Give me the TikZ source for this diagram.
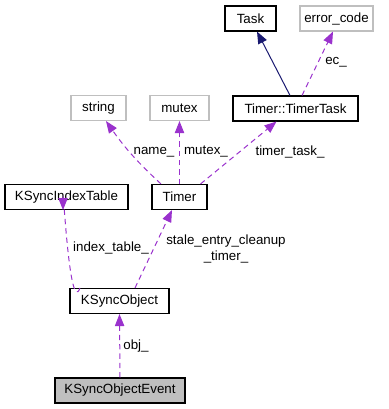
\documentclass[tikz,border=0pt]{standalone}
\usepackage{fontspec}
\setmainfont{Liberation Sans}
\usetikzlibrary{arrows.meta,calc}

\definecolor{edgepurple}{HTML}{9A32CD}
\definecolor{edgenavy}{HTML}{191970}
\definecolor{extgray}{HTML}{BFBFBF}

\begin{document}
\begin{tikzpicture}[x=0.75pt,y=-0.75pt,
    font=\fontsize{10}{11.5}\selectfont,
    classbox/.style={draw=black,line width=0.8pt,inner sep=0pt,
        minimum height=18.75pt,minimum width=#1*0.75pt},
    extbox/.style={classbox=#1,draw=extgray},
    usage/.style={edgepurple,line width=0.75pt,dash pattern=on 4pt off 3pt,
        -{Triangle[length=9pt,width=7pt,sharp]}},
    inherit/.style={edgenavy,line width=0.75pt,
        -{Triangle[length=9pt,width=7pt,sharp]}},
    memname/.style={inner sep=0pt,align=center}]
    \useasboundingbox (0,0) rectangle (388,409);
    % classes
    \node[classbox=51]  (task)   at (250.5,18.5) {Task};
    \node[extbox=73]    (errc)   at (336.5,18.5) {error\_code};
    \node[extbox=55]    (str)    at (98.5,108)   {string};
    \node[extbox=59]    (mtx)    at (179.5,108)  {mutex};
    \node[classbox=125] (ttask)  at (295.5,108.5) {Timer::TimerTask};
    \node[classbox=123] (itable) at (66.5,197)   {KSyncIndexTable};
    \node[classbox=55]  (timer)  at (179.5,197)  {Timer};
    \node[classbox=99]  (kobj)   at (119.5,301)  {KSyncObject};
    \node[classbox=130,fill=extgray] (kevent) at (120,390.5) {KSyncObjectEvent};
    % inheritance
    \draw[inherit] ($(ttask.north)+(-5.5,0)$) -- ($(task.south)+(6.5,0)$);
    % members
    \draw[usage] ($(ttask.north)+(6.5,0)$) -- ($(errc.south)+(-3.5,0)$);
    \node[memname] (ec) at (336,62) {ec\_};
    \draw[usage] ($(timer.north)+(-18.5,0)$) to[bend left=6] ($(str.south)+(7.5,0)$);
    \node[memname] (nm) at (154,152) {name\_};
    \draw[usage] (timer.north) -- (mtx.south);
    \node[memname] (mx) at (206,152) {mutex\_};
    \draw[usage] ($(timer.north)+(21,0)$) -- ($(ttask.south)+(-19,0)$);
    \node[memname] (tt) at (290,152) {timer\_task\_};
    \draw[usage] ($(kobj.north)+(-39.5,0)$) to[out=-110,in=90] ($(itable.south)+(-3.5,0)$);
    \node[memname] (it) at (111,248) {index\_table\_};
    \draw[usage] ($(kobj.north)+(15.5,0)$) -- ($(timer.south)+(-7.5,0)$);
    \node[memname] (st) at (226,249) {stale\_entry\_cleanup\\\_timer\_};
    \draw[usage] (kevent.north) -- (kobj.south);
    \node[memname] (ob) at (136,346) {obj\_};
\end{tikzpicture}
\end{document}
